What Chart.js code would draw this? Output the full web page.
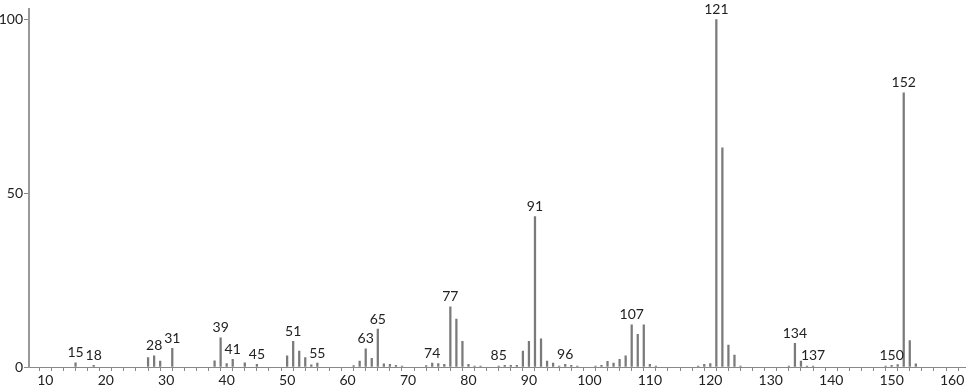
<!DOCTYPE html>
<html>
<head>
<meta charset="utf-8">
<script src="https://cdn.jsdelivr.net/npm/chart.js@4/dist/chart.umd.min.js"></script>
<style>
html,body{margin:0;padding:0;background:#fff;}
#wrap{width:966px;height:389px;position:relative;}
</style>
</head>
<body>
<div id="wrap"><canvas id="c"></canvas></div>
<script>
const mzValues = [15,18,27,28,29,31,38,39,40,41,43,45,50,51,52,53,54,55,61,62,63,64,65,66,67,68,69,73,74,75,76,77,78,79,80,81,82,85,86,87,88,89,90,91,92,93,94,95,96,97,98,101,102,103,104,105,106,107,108,109,110,111,118,119,120,121,122,123,124,125,133,134,135,136,137,149,150,151,152,153,154];
const intensities = [1.2,0.5,2.7,3.2,1.7,5.4,1.8,8.4,1.0,2.2,1.2,0.8,3.2,7.4,4.6,2.7,0.6,1.1,0.4,1.7,5.2,2.5,10.9,0.9,0.8,0.5,0.3,0.4,1.1,1.0,0.8,17.3,13.8,7.4,0.8,0.3,0.3,0.3,0.5,0.5,0.5,4.6,7.4,43.3,8.1,1.7,1.1,0.3,0.8,0.5,0.3,0.3,0.5,1.6,1.1,2.2,3.2,12.1,9.4,12.1,0.8,0.3,0.3,0.8,1.0,100,63.1,6.3,3.4,0.3,0.3,6.8,1.7,0.3,0.3,0.3,0.5,0.7,78.9,7.6,0.9];
const labeledPeaks = [15,18,28,31,39,41,45,51,55,63,65,74,77,85,91,96,107,121,134,137,150,152];
const xTickLabels = [10,20,30,40,50,60,70,80,90,100,110,120,130,140,150,160];
const yTickLabels = [0,50,100];

const FONT = "Lato, 'DejaVu Sans', sans-serif";
const points = mzValues.map((m,i)=>({x:m,y:intensities[i]}));

const peakLabelPlugin = {
  id:'peakLabels',
  afterDatasetsDraw(chart){
    const ctx = chart.ctx;
    const xs = chart.scales.x, ys = chart.scales.y;
    ctx.save();
    ctx.font = "14px " + FONT;
    ctx.fillStyle = "#222";
    ctx.textAlign = "center";
    ctx.textBaseline = "bottom";
    labeledPeaks.forEach(m=>{
      const i = mzValues.indexOf(m);
      if(i<0) return;
      const px = xs.getPixelForValue(m);
      const py = ys.getPixelForValue(intensities[i]);
      ctx.fillText(String(m), px, py - 3);
    });
    ctx.restore();
  }
};

new Chart(document.getElementById('c'), {
  type:'bar',
  data:{datasets:[{data:points, backgroundColor:'#7a7a7a', borderWidth:0, barThickness:1.6}]},
  plugins:[peakLabelPlugin],
  options:{
    responsive:true, maintainAspectRatio:false, animation:false,
    layout:{padding:{top:0,right:-5,left:0,bottom:0}},
    plugins:{legend:{display:false}, tooltip:{enabled:false}},
    scales:{
      x:{
        type:'linear', min:7.3, max:162.3, offset:false,
        grid:{display:true, drawOnChartArea:false, drawTicks:true, tickLength:4, color:'#888', tickColor:'#888', tickWidth:1},
        border:{display:true, color:'#888', width:1},
        afterBuildTicks(s){
          const t=[]; for(let v=8; v<=162; v+=2) t.push({value:v});
          s.ticks=t;
        },
        afterFit(s){ s.height = 22; },
        ticks:{
          autoSkip:false, maxRotation:0, padding:1, color:'#222',
          font:{family:FONT,size:14},
          callback:(v)=> xTickLabels.includes(v) ? String(v) : ''
        }
      },
      y:{
        min:0, max:102.9,
        grid:{display:true, drawOnChartArea:false, drawTicks:true, tickLength:5, color:'#888', tickColor:'#888'},
        border:{display:true, color:'#999', width:2},
        afterBuildTicks(s){ s.ticks = yTickLabels.map(v=>({value:v})); },
        afterFit(s){ s.width = 29; },
        ticks:{padding:1, color:'#222', font:{family:FONT,size:14}}
      }
    }
  }
});
</script>
</body>
</html>
